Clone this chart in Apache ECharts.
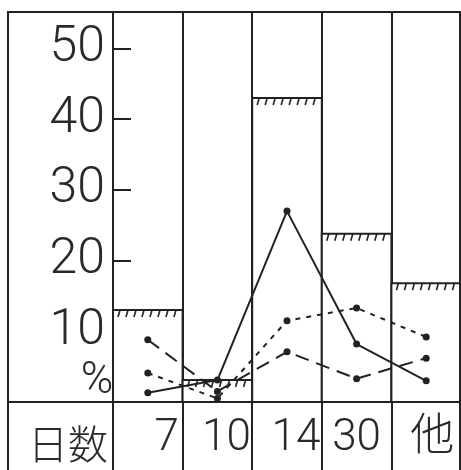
<!DOCTYPE html>
<html>
<head>
<meta charset="utf-8">
<script src="https://cdn.jsdelivr.net/npm/echarts@6/dist/echarts.min.js"></script>
<style>
  html, body { margin: 0; padding: 0; background: #fff; }
  #chart { width: 461px; height: 470px; }
</style>
</head>
<body>
<div id="chart"></div>
<script>
// 日数ごとの割合 (%)
const days = ['7', '10', '14', '30', '他'];
const barValues = [13, 3.1, 43, 23.8, 16.8];
const solidLine = [1.3, 3.1, 27, 8.2, 3.0];
const dottedLine = [4.1, 0.5, 11.5, 13.3, 9.2];
const dashLine = [8.8, 1.5, 7.1, 3.3, 6.2];
const yTicks = [10, 20, 30, 40, 50];

// nudges so the day labels sit where the hand-lettering does
const labelShift = [38, 18, 18, 0, 12];

const ink = '#222';
const textInk = '#2a2a2a';
const numFont = 'Roboto, "DejaVu Sans Condensed", sans-serif';
const chart = echarts.init(document.getElementById('chart'));

function renderBar(params, api) {
    const top = api.coord([api.value(0), api.value(1)]);
    const base = api.coord([api.value(0), 0]);
    const w = api.size([1, 0])[0];
    const x0 = top[0] - w / 2;
    const kids = [{
        type: 'rect',
        shape: { x: x0, y: top[1], width: w, height: base[1] - top[1] },
        style: { fill: '#fff', stroke: ink, lineWidth: 2 }
    }];
    // hatch marks under the top edge
    for (let k = x0 + 5; k < x0 + w - 2; k += 8) {
        kids.push({
            type: 'line',
            shape: { x1: k + 2, y1: top[1], x2: k, y2: top[1] + 7 },
            style: { stroke: ink, lineWidth: 1.6 }
        });
    }
    return { type: 'group', children: kids };
}

function lineSeries(data, dash) {
    return {
        type: 'line',
        data: data,
        z: 5,
        symbol: 'circle',
        symbolSize: 7,
        itemStyle: { color: ink },
        lineStyle: { color: ink, width: 2, type: dash },
        animation: false
    };
}

chart.setOption({
    backgroundColor: '#fff',
    animation: false,
    grid: { left: 113, right: 0, top: 12, bottom: 68, outerBoundsMode: 'none' },
    xAxis: {
        type: 'category',
        data: days.map((d, i) => ({ value: d, textStyle: { padding: [0, 0, 0, labelShift[i]] } })),
        boundaryGap: true,
        axisLine: { lineStyle: { color: ink, width: 2 } },
        axisTick: { show: true, interval: 0, length: 70, lineStyle: { color: ink, width: 2 } },
        splitLine: { show: true, interval: 0, lineStyle: { color: ink, width: 2 } },
        axisLabel: {
            interval: 0,
            margin: 15,
            fontSize: 44,
            fontWeight: 300,
            fontFamily: numFont + ', "Noto Sans CJK JP"',
            color: textInk
        }
    },
    yAxis: {
        type: 'value',
        min: 0,
        max: 55.16,
        interval: 10,
        axisLine: { show: true, lineStyle: { color: ink, width: 2 } },
        axisTick: { show: true, inside: true, length: 18, lineStyle: { color: ink, width: 2 } },
        splitLine: { show: false },
        axisLabel: {
            margin: 8,
            fontSize: 50,
            fontWeight: 300,
            fontFamily: numFont,
            color: textInk,
            formatter: v => (yTicks.indexOf(v) >= 0 ? String(v) : '')
        }
    },
    graphic: [
        {
            type: 'rect',
            shape: { x: 8, y: 12, width: 452, height: 470 },
            style: { fill: null, stroke: ink, lineWidth: 2 },
            z: 10
        },
        {
            type: 'line',
            shape: { x1: 8, y1: 402, x2: 113, y2: 402 },
            style: { stroke: ink, lineWidth: 2 },
            z: 10
        },
        {
            type: 'text',
            x: 97, y: 382,
            style: {
                text: '%', fontSize: 44, fontWeight: 300, fill: textInk,
                fontFamily: numFont,
                align: 'center', verticalAlign: 'middle'
            },
            z: 10
        },
        {
            type: 'text',
            x: 68, y: 444,
            style: {
                text: '日数', fontSize: 40, fill: textInk,
                fontFamily: '"Noto Sans CJK JP"', fontWeight: 300,
                align: 'center', verticalAlign: 'middle'
            },
            z: 10
        }
    ],
    series: [
        {
            type: 'custom',
            renderItem: renderBar,
            data: barValues.map((v, i) => [i, v]),
            encode: { x: 0, y: 1 },
            z: 2
        },
        lineSeries(solidLine, 'solid'),
        lineSeries(dottedLine, [5, 6]),
        lineSeries(dashLine, [14, 8])
    ]
});
</script>
</body>
</html>
